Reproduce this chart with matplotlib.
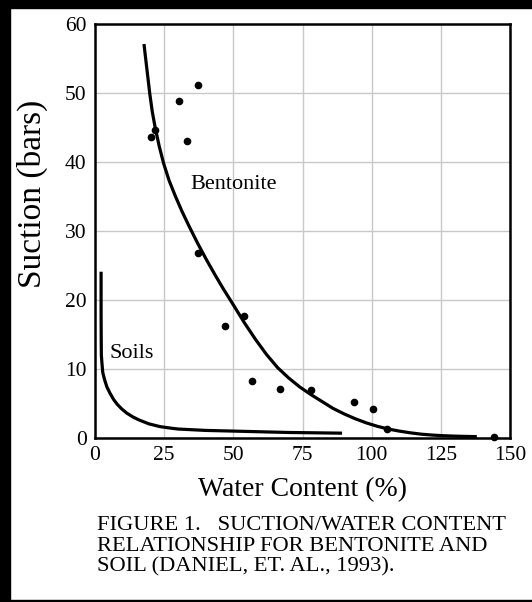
import matplotlib.pyplot as plt
from matplotlib.patches import Rectangle

plt.rcParams['font.family'] = ['Liberation Serif', 'DejaVu Serif']

# puntos medidos (bentonita)
pts_x = [37.4, 30.3, 21.7, 20.2, 33.4, 37.4, 47.0, 53.9, 56.8, 66.9, 78.1, 93.6, 100.5, 105.6, 144.2]
pts_y = [51.1, 48.9, 44.7, 43.6, 43.0, 26.8, 16.2, 17.7, 8.3, 7.1, 6.9, 5.2, 4.2, 1.3, 0.1]

# curva ajustada bentonita
bent_x = [17.7, 18.6, 19.8, 20.7, 21.7, 23.2, 24.8, 26.8, 29.1, 31.5, 34.0, 37.0, 40.2, 43.3, 46.4,
          50, 54, 58, 62, 66, 70, 74, 78, 82, 86, 90, 94, 98, 102, 106,
          110, 114, 118, 122, 126, 130, 134, 138]
bent_y = [57.1, 54.0, 49.9, 47.3, 45.1, 42.3, 39.8, 37.3, 35.0, 32.8, 30.7, 28.3, 25.9, 23.7, 21.6,
          19.3, 16.7, 14.3, 12.1, 10.2, 8.7, 7.4, 6.3, 5.3, 4.3, 3.5, 2.8, 2.2, 1.7, 1.3,
          1.0, 0.75, 0.55, 0.42, 0.33, 0.27, 0.23, 0.2]

# curva suelos
soil_x = [2.2, 2.2, 2.25, 2.3, 2.5, 2.8, 3.5, 4.3, 5.4, 6.7, 8.0, 9.7, 11.5, 13.7, 16.0, 19.5, 23.5,
          27, 30, 35, 40, 45, 50, 60, 70, 80, 89.3]
soil_y = [24.1, 18.0, 14.0, 12.0, 10.9, 9.5, 8.4, 7.4, 6.5, 5.6, 4.9, 4.2, 3.6, 3.05, 2.6, 2.05, 1.65,
          1.45, 1.3, 1.2, 1.1, 1.05, 1.0, 0.9, 0.8, 0.75, 0.7]

xticks = [0, 25, 50, 75, 100, 125, 150]
yticks = [0, 10, 20, 30, 40, 50, 60]

fig = plt.figure(figsize=(5.32, 6.02), dpi=100)
ax = fig.add_axes([95/532, 1-438/602, 415/532, 414/602])

ax.plot(bent_x, bent_y, color='black', lw=2.3, solid_capstyle='butt', solid_joinstyle='round')
ax.plot(soil_x, soil_y, color='black', lw=2.3, solid_capstyle='butt', solid_joinstyle='round')
ax.plot(pts_x, pts_y, 'o', color='black', ms=4.5, clip_on=False)

ax.set_xlim(0, 150)
ax.set_ylim(0, 60)
ax.set_xticks(xticks)
ax.set_yticks(yticks)
ax.tick_params(length=0, labelsize=15.5, pad=6)
ax.grid(True, color='#c8c8c8', lw=1)
ax.set_axisbelow(True)
for s in ax.spines.values():
    s.set_linewidth(1.8)

ax.text(34.5, 36.8, 'Bentonite', fontsize=16, va='center', ha='left')
ax.text(5.4, 12.3, 'Soils', fontsize=16, va='center', ha='left')

ax.set_ylabel('Suction (bars)', fontsize=24, va='center')
ax.yaxis.set_label_coords(-0.152, 0.59)
ax.set_xlabel('Water Content (%)', fontsize=20, va='center')
ax.xaxis.set_label_coords(0.5, -0.125)

fig.text(97/532, 1-516/602,
         'FIGURE 1.   SUCTION/WATER CONTENT\nRELATIONSHIP FOR BENTONITE AND\nSOIL (DANIEL, ET. AL., 1993).',
         fontsize=16.2, ha='left', va='top', linespacing=1.12,
         transform=fig.transFigure)

# marco negro
fig.patches.append(Rectangle((0, 1-8/602), 1, 8/602, transform=fig.transFigure, color='black'))
fig.patches.append(Rectangle((0, 0), 10/532, 1, transform=fig.transFigure, color='black'))
fig.patches.append(Rectangle((0, 0), 1, 2/602, transform=fig.transFigure, color='black'))

fig.savefig('out.png', dpi=100)
